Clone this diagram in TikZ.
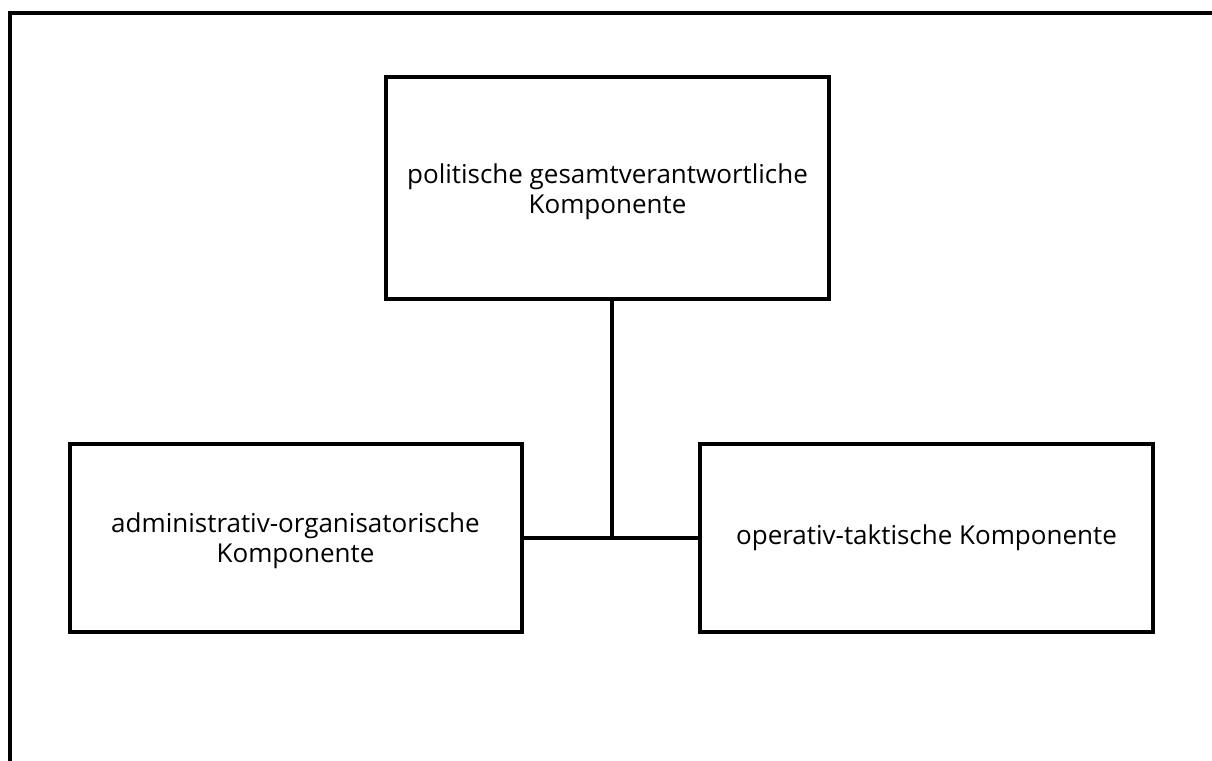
\documentclass[tikz,border=0pt]{standalone}
\usepackage{fontspec}
\setmainfont{Open Sans}
\begin{document}
\begin{tikzpicture}[x=1pt,y=-1pt,
  box/.style={draw=black, line width=4pt, fill=white, align=center, inner sep=0pt,
    font=\fontsize{26}{30}\selectfont},
  link/.style={draw=black, line width=4pt}]
\useasboundingbox (0,0) rectangle (1212,760);
\draw[link, line join=miter] (9.5,780) -- (9.5,13) -- (1230,13);
\node[box, minimum width=443pt, minimum height=222pt] (top) at (607.5,188) {\rule{0pt}{28pt}politische gesamtverantwortliche\\Komponente};
\node[box, minimum width=452pt, minimum height=188pt] (left) at (295.5,538) {\rule{0pt}{25pt}administrativ-organisatorische\\Komponente};
\node[box, minimum width=453pt, minimum height=188pt] (right) at (926.5,538) {operativ-taktische Komponente};
\coordinate (j) at (612,538);
\draw[link] (top.south -| j) -- (j);
\draw[link] (left.east) -- (right.west);
\end{tikzpicture}
\end{document}
